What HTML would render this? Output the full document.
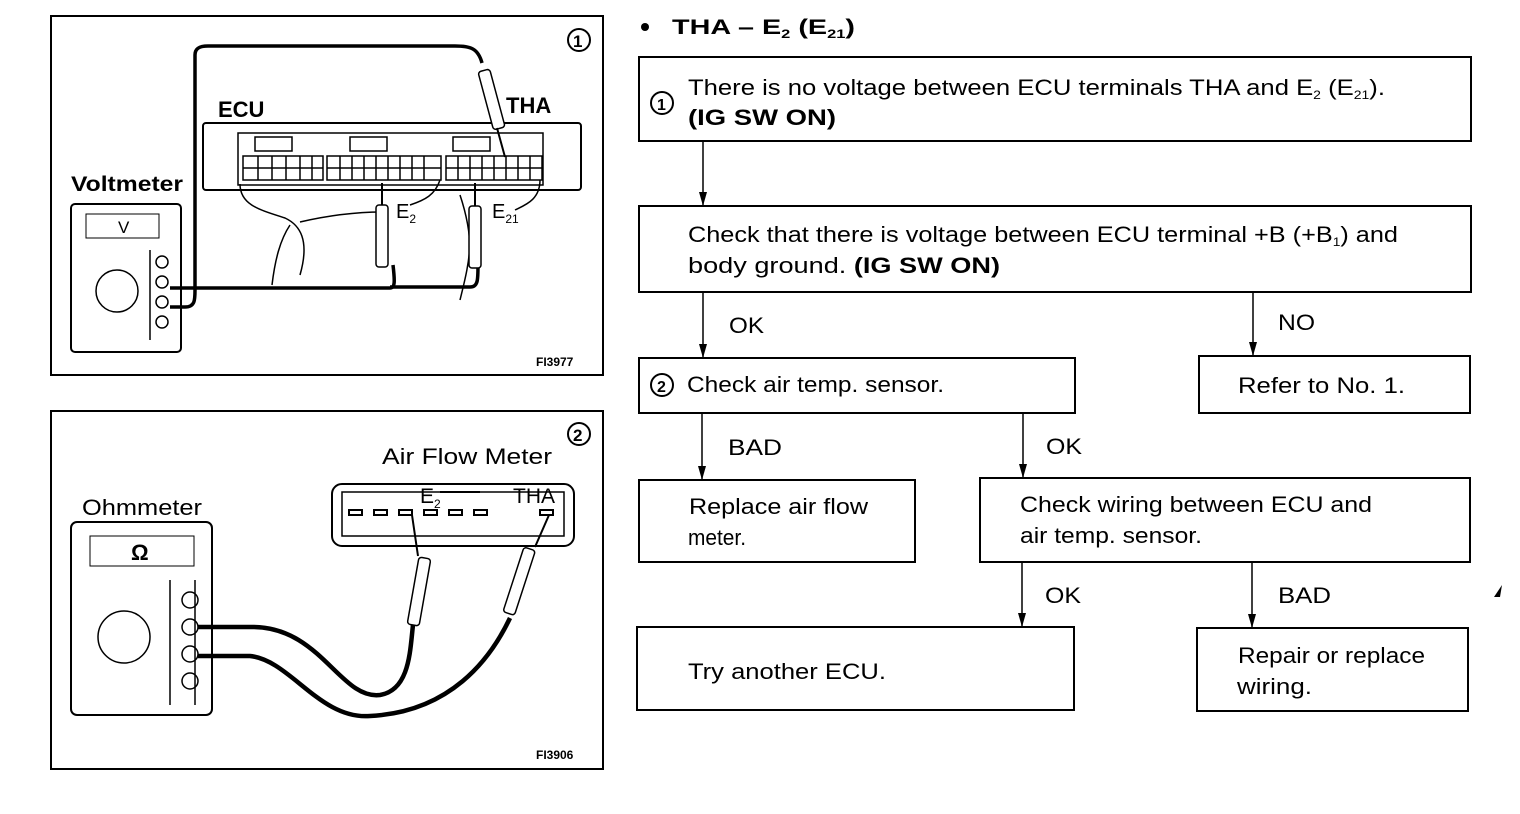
<!DOCTYPE html>
<html><head><meta charset="utf-8"><style>
html,body{margin:0;padding:0;background:#fff;}
svg{display:block;}
text{font-family:"Liberation Sans",sans-serif;fill:#000;}
</style></head><body>
<svg width="1520" height="814" viewBox="0 0 1520 814" xmlns="http://www.w3.org/2000/svg">
<defs>
<marker id="ah" markerWidth="14" markerHeight="8" refX="13" refY="4" orient="auto" markerUnits="userSpaceOnUse">
<path d="M0,0 L14,4 L0,8 Z" fill="#000"/>
</marker>
</defs>
<!-- Panel 1 -->
<rect x="51" y="16" width="552" height="359" fill="none" stroke="#000" stroke-width="2"/>
<circle cx="579" cy="40" r="11" fill="none" stroke="#000" stroke-width="2"/>
<text x="573" y="47" font-size="17" font-weight="bold">1</text>
<text x="218" y="117" font-size="22" font-weight="bold">ECU</text>
<text x="506" y="113" font-size="22" font-weight="bold">THA</text>
<text x="71" y="191" font-size="21" font-weight="bold" textLength="112" lengthAdjust="spacingAndGlyphs">Voltmeter</text>
<rect x="203" y="123" width="378" height="67" rx="3" fill="none" stroke="#000" stroke-width="2"/>
<rect x="238" y="133" width="305" height="52" fill="none" stroke="#000" stroke-width="1.5"/>
<rect x="255" y="137" width="37" height="14" fill="none" stroke="#000" stroke-width="1.5"/>
<rect x="350" y="137" width="37" height="14" fill="none" stroke="#000" stroke-width="1.5"/>
<rect x="453" y="137" width="37" height="14" fill="none" stroke="#000" stroke-width="1.5"/>
<g stroke="#000" stroke-width="1.5" fill="none">
<rect x="243" y="156" width="80" height="24"/>
<rect x="327" y="156" width="114" height="24"/>
<rect x="446" y="156" width="96" height="24"/>
<path d="M243,168 H323 M327,168 H441 M446,168 H542"/>
<path d="M258,156 V180 M272,156 V180 M286,156 V180 M300,156 V180 M312,156 V180 M340,156 V180 M352,156 V180 M364,156 V180 M376,156 V180 M388,156 V180 M400,156 V180 M412,156 V180 M424,156 V180 M458,156 V180 M470,156 V180 M482,156 V180 M494,156 V180 M506,156 V180 M518,156 V180 M530,156 V180"/>
<path d="M240,184 C240,205 260,210 285,218 C300,225 310,240 300,275"/>
<path d="M290,225 C280,240 275,260 272,285"/>
<path d="M300,222 C330,215 360,212 383,212"/>
<path d="M440,180 C435,195 425,200 410,205"/>
<path d="M460,195 C465,210 470,230 470,250"/>
<path d="M540,180 C540,200 525,205 515,210"/>
<path d="M470,240 C470,260 465,280 460,300"/>
</g>
<g stroke="#000" stroke-width="3.5" fill="none">
<path d="M170,288 H390 C395,288 395,282 393,265"/>
<path d="M390,287 H470 C478,287 478,280 478,265"/>
<path d="M170,307 H185 C195,307 195,300 195,290 V55 C195,48 200,46 208,46 H455 C470,46 478,48 482,63"/>
</g>
<g stroke="#000" stroke-width="1.5" fill="#fff">
<rect x="376" y="205" width="12" height="62" rx="3"/>
<rect x="469" y="206" width="12" height="62" rx="3"/>
<rect x="0" y="0" width="12" height="60" rx="3" transform="translate(478,72) rotate(-15)"/>
</g>
<g stroke="#000" stroke-width="2" fill="none">
<path d="M382,183 V205 M475,183 V206 M497,128 L505,157"/>
</g>
<text x="396" y="218" font-size="20">E<tspan font-size="12" dy="5">2</tspan></text>
<text x="466" y="218" font-size="20" dx="26">E<tspan font-size="12" dy="5">21</tspan></text>
<rect x="71" y="204" width="110" height="148" rx="4" fill="none" stroke="#000" stroke-width="2"/>
<rect x="86" y="214" width="73" height="24" fill="none" stroke="#000" stroke-width="1"/>
<text x="118" y="233" font-size="17">V</text>
<circle cx="117" cy="291" r="21" fill="none" stroke="#000" stroke-width="1.5"/>
<g fill="none" stroke="#000" stroke-width="1.5">
<circle cx="162" cy="262" r="6"/><circle cx="162" cy="282" r="6"/><circle cx="162" cy="302" r="6"/><circle cx="162" cy="322" r="6"/>
<path d="M150,250 V340"/>
</g>
<text x="536" y="366" font-size="12" font-weight="bold">FI3977</text>
<!-- Panel 2 -->
<rect x="51" y="411" width="552" height="358" fill="none" stroke="#000" stroke-width="2"/>
<circle cx="579" cy="434" r="11" fill="none" stroke="#000" stroke-width="2"/>
<text x="573" y="441" font-size="17" font-weight="bold">2</text>
<text x="382" y="464" font-size="22" textLength="170" lengthAdjust="spacingAndGlyphs">Air Flow Meter</text>
<text x="82" y="515" font-size="22" textLength="120" lengthAdjust="spacingAndGlyphs">Ohmmeter</text>
<rect x="332" y="484" width="242" height="62" rx="10" fill="none" stroke="#000" stroke-width="2"/>
<rect x="342" y="492" width="222" height="44" fill="none" stroke="#000" stroke-width="1.5"/>
<g fill="none" stroke="#000" stroke-width="2">
<rect x="349" y="510" width="13" height="5"/><rect x="374" y="510" width="13" height="5"/><rect x="399" y="510" width="13" height="5"/><rect x="424" y="510" width="13" height="5"/><rect x="449" y="510" width="13" height="5"/><rect x="474" y="510" width="13" height="5"/><rect x="540" y="510" width="13" height="5"/>
<path d="M440,492 H480"/>
</g>
<text x="420" y="503" font-size="21">E<tspan font-size="12" dy="5">2</tspan></text>
<text x="513" y="503" font-size="21">THA</text>
<rect x="71" y="522" width="141" height="193" rx="6" fill="none" stroke="#000" stroke-width="2"/>
<rect x="90" y="536" width="104" height="30" fill="none" stroke="#000" stroke-width="1"/>
<text x="131" y="560" font-size="22" font-weight="bold">Ω</text>
<circle cx="124" cy="637" r="26" fill="none" stroke="#000" stroke-width="1.5"/>
<g fill="none" stroke="#000" stroke-width="1.5">
<circle cx="190" cy="600" r="8"/><circle cx="190" cy="627" r="8"/><circle cx="190" cy="654" r="8"/><circle cx="190" cy="681" r="8"/>
<path d="M170,580 V705 M195,580 V705"/>
</g>
<g stroke="#000" stroke-width="4.5" fill="none">
<path d="M198,627 H250 C320,625 340,700 380,695 C410,690 410,650 413,625"/>
<path d="M198,656 H250 C290,660 320,720 370,716 C450,712 490,660 510,618"/>
</g>
<g stroke="#000" stroke-width="1.5" fill="#fff">
<rect x="0" y="0" width="12" height="68" rx="3" transform="translate(419,557) rotate(10)"/>
<rect x="0" y="0" width="12" height="68" rx="3" transform="translate(524,547) rotate(18)"/>
</g>
<path d="M412,515 L418,556 M549,515 L535,547" stroke="#000" stroke-width="2" fill="none"/>
<text x="536" y="759" font-size="12" font-weight="bold">FI3906</text>
<!-- Flowchart -->
<circle cx="645" cy="27" r="4" fill="#000"/>
<text x="672" y="34" font-size="21" font-weight="bold" textLength="183" lengthAdjust="spacingAndGlyphs">THA – E<tspan font-size="12" dy="4">2</tspan><tspan dy="-4"> (E</tspan><tspan font-size="12" dy="4">21</tspan><tspan dy="-4">)</tspan></text>
<g fill="none" stroke="#000" stroke-width="2">
<rect x="639" y="57" width="832" height="84"/>
<rect x="639" y="206" width="832" height="86"/>
<rect x="639" y="358" width="436" height="55"/>
<rect x="1199" y="356" width="271" height="57"/>
<rect x="639" y="480" width="276" height="82"/>
<rect x="980" y="478" width="490" height="84"/>
<rect x="637" y="627" width="437" height="83"/>
<rect x="1197" y="628" width="271" height="83"/>
</g>
<g stroke="#000" stroke-width="1.5" marker-end="url(#ah)">
<line x1="703" y1="141" x2="703" y2="205"/>
<line x1="703" y1="292" x2="703" y2="357"/>
<line x1="1253" y1="292" x2="1253" y2="355"/>
<line x1="702" y1="413" x2="702" y2="479"/>
<line x1="1023" y1="413" x2="1023" y2="477"/>
<line x1="1022" y1="562" x2="1022" y2="626"/>
<line x1="1252" y1="562" x2="1252" y2="627"/>
</g>
<circle cx="662" cy="103" r="11" fill="none" stroke="#000" stroke-width="2"/>
<text x="657" y="110" font-size="16" font-weight="bold">1</text>
<g font-size="22" >
<text x="688" y="95" textLength="697" lengthAdjust="spacingAndGlyphs">There is no voltage between ECU terminals THA and E<tspan font-size="12" dy="4">2</tspan><tspan dy="-4"> (E</tspan><tspan font-size="12" dy="4">21</tspan><tspan dy="-4">).</tspan></text>
<text x="688" y="125" font-weight="bold" textLength="148" lengthAdjust="spacingAndGlyphs">(IG  SW  ON)</text>
<text x="688" y="242" textLength="710" lengthAdjust="spacingAndGlyphs">Check that there is voltage between ECU terminal +B (+B<tspan font-size="12" dy="4">1</tspan><tspan dy="-4">) and</tspan></text>
<text x="688" y="273" textLength="312" lengthAdjust="spacingAndGlyphs">body ground.  <tspan font-weight="bold">(IG  SW  ON)</tspan></text>
<text x="729" y="333" textLength="35" lengthAdjust="spacingAndGlyphs">OK</text>
<text x="1278" y="330" textLength="37" lengthAdjust="spacingAndGlyphs">NO</text>
<text x="687" y="392" textLength="257" lengthAdjust="spacingAndGlyphs">Check air temp. sensor.</text>
<text x="1238" y="393" textLength="167" lengthAdjust="spacingAndGlyphs">Refer to No. 1.</text>
<text x="728" y="455" textLength="54" lengthAdjust="spacingAndGlyphs">BAD</text>
<text x="1046" y="454" textLength="36" lengthAdjust="spacingAndGlyphs">OK</text>
<text x="689" y="514" textLength="179" lengthAdjust="spacingAndGlyphs">Replace air flow</text>
<text x="688" y="545" textLength="58" lengthAdjust="spacingAndGlyphs">meter.</text>
<text x="1020" y="512" textLength="352" lengthAdjust="spacingAndGlyphs">Check wiring between ECU and</text>
<text x="1020" y="543" textLength="182" lengthAdjust="spacingAndGlyphs">air temp. sensor.</text>
<text x="1045" y="603" textLength="36" lengthAdjust="spacingAndGlyphs">OK</text>
<text x="1278" y="603" textLength="53" lengthAdjust="spacingAndGlyphs">BAD</text>
<text x="688" y="679" textLength="198" lengthAdjust="spacingAndGlyphs">Try another ECU.</text>
<text x="1238" y="663" textLength="187" lengthAdjust="spacingAndGlyphs">Repair or replace</text>
<text x="1237" y="694" textLength="75" lengthAdjust="spacingAndGlyphs">wiring.</text>
</g>
<circle cx="662" cy="385" r="11" fill="none" stroke="#000" stroke-width="2"/>
<text x="657" y="392" font-size="16" font-weight="bold">2</text>
<path d="M1494,597 L1502,585 L1500,597 Z" fill="#000"/>
</svg>
</body></html>
